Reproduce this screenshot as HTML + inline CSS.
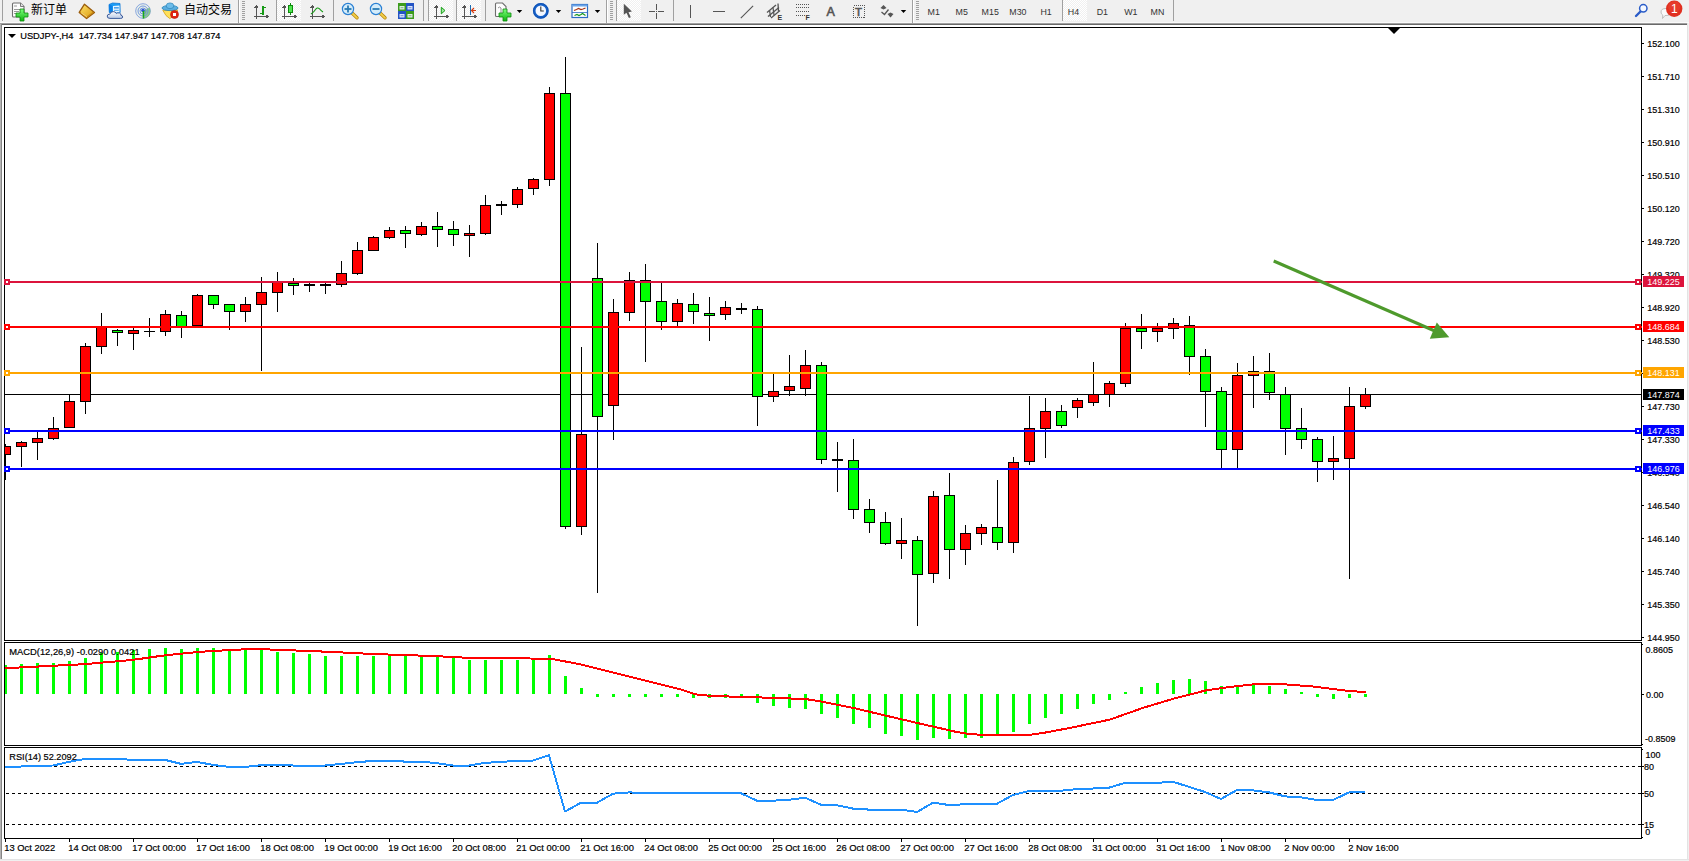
<!DOCTYPE html>
<html lang="zh"><head><meta charset="utf-8"><title>USDJPY-,H4</title>
<style>
html,body{margin:0;padding:0;background:#fff;}
body{width:1689px;height:861px;overflow:hidden;position:relative;font-family:"Liberation Sans","Noto Sans CJK SC",sans-serif;}
#tb{position:absolute;left:0;top:0;width:1689px;height:23px;background:#f0f0f0;border-bottom:1px solid #fafafa;box-sizing:border-box;}
#tbl1{position:absolute;left:0;top:23px;width:1689px;height:1px;background:#a0a0a0;}
#tbl2{position:absolute;left:0;top:24px;width:1689px;height:1px;background:#696969;}
#lg{position:absolute;left:0;top:24px;width:2px;height:835px;background:#868686;border-left:1px solid #b4b4b4;box-sizing:border-box;}
#rg{position:absolute;left:1687px;top:23px;width:2px;height:838px;background:#f0f0f0;border-left:1px solid #e3e3e3;box-sizing:border-box;}
#bg{position:absolute;left:0;top:859px;width:1689px;height:2px;background:#f0f0f0;border-top:1px solid #e3e3e3;box-sizing:border-box;}
.cn{position:absolute;top:3px;font-size:12px;line-height:14px;color:#000;white-space:nowrap;}
.tf{position:absolute;top:5px;font-size:9px;line-height:12px;color:#333;white-space:nowrap;}
svg{position:absolute;left:0;top:0;}
</style></head><body>
<div id="tb"></div><div id="tbl1"></div><div id="tbl2"></div><div id="lg"></div><div id="rg"></div><div id="bg"></div>
<span class="cn" style="left:31px">新订单</span>
<span class="cn" style="left:184px">自动交易</span>
<svg width="1689" height="861" viewBox="0 0 1689 861">
<defs><pattern id="chk" width="2" height="2" patternUnits="userSpaceOnUse"><rect width="2" height="2" fill="#f0f0f0"/><rect width="1" height="1" fill="#fff"/><rect x="1" y="1" width="1" height="1" fill="#fff"/></pattern>
<linearGradient id="gp" x1="0" y1="0" x2="0" y2="1"><stop offset="0" stop-color="#7dff7d"/><stop offset="1" stop-color="#0fb40f"/></linearGradient>
<linearGradient id="gold" x1="0" y1="0" x2="1" y2="1"><stop offset="0" stop-color="#ffe36a"/><stop offset="1" stop-color="#d9980f"/></linearGradient>
<linearGradient id="cl" x1="0" y1="0" x2="0" y2="1"><stop offset="0" stop-color="#ffffff"/><stop offset="1" stop-color="#b8c8e4"/></linearGradient>
</defs>
<g shape-rendering="crispEdges">
<rect x="2" y="0" width="1" height="21" fill="#a0a0a0"/>
<rect x="238" y="0" width="1" height="23" fill="#a0a0a0"/>
<rect x="239" y="0" width="1" height="23" fill="#fff"/>
<rect x="242" y="1" width="3" height="1" fill="#a0a0a0"/>
<rect x="242" y="3" width="3" height="1" fill="#a0a0a0"/>
<rect x="242" y="5" width="3" height="1" fill="#a0a0a0"/>
<rect x="242" y="7" width="3" height="1" fill="#a0a0a0"/>
<rect x="242" y="9" width="3" height="1" fill="#a0a0a0"/>
<rect x="242" y="11" width="3" height="1" fill="#a0a0a0"/>
<rect x="242" y="13" width="3" height="1" fill="#a0a0a0"/>
<rect x="242" y="15" width="3" height="1" fill="#a0a0a0"/>
<rect x="242" y="17" width="3" height="1" fill="#a0a0a0"/>
<rect x="242" y="19" width="3" height="1" fill="#a0a0a0"/>
<rect x="276" y="0" width="1" height="21" fill="#a0a0a0"/>
<rect x="277" y="0" width="24" height="21" fill="url(#chk)"/>
<rect x="333" y="0" width="1" height="21" fill="#a0a0a0"/>
<rect x="423" y="0" width="1" height="21" fill="#a0a0a0"/>
<rect x="428" y="0" width="1" height="21" fill="#a0a0a0"/>
<rect x="429" y="0" width="24" height="21" fill="url(#chk)"/>
<rect x="456" y="0" width="1" height="21" fill="#a0a0a0"/>
<rect x="457" y="0" width="24" height="21" fill="url(#chk)"/>
<rect x="485" y="0" width="1" height="21" fill="#a0a0a0"/>
<rect x="606" y="0" width="1" height="23" fill="#a0a0a0"/>
<rect x="607" y="0" width="1" height="23" fill="#fff"/>
<rect x="610" y="1" width="3" height="1" fill="#a0a0a0"/>
<rect x="610" y="3" width="3" height="1" fill="#a0a0a0"/>
<rect x="610" y="5" width="3" height="1" fill="#a0a0a0"/>
<rect x="610" y="7" width="3" height="1" fill="#a0a0a0"/>
<rect x="610" y="9" width="3" height="1" fill="#a0a0a0"/>
<rect x="610" y="11" width="3" height="1" fill="#a0a0a0"/>
<rect x="610" y="13" width="3" height="1" fill="#a0a0a0"/>
<rect x="610" y="15" width="3" height="1" fill="#a0a0a0"/>
<rect x="610" y="17" width="3" height="1" fill="#a0a0a0"/>
<rect x="610" y="19" width="3" height="1" fill="#a0a0a0"/>
<rect x="616" y="0" width="1" height="21" fill="#a0a0a0"/>
<rect x="617" y="0" width="24" height="21" fill="url(#chk)"/>
<rect x="673" y="0" width="1" height="21" fill="#a0a0a0"/>
<rect x="912" y="0" width="1" height="23" fill="#a0a0a0"/>
<rect x="913" y="0" width="1" height="23" fill="#fff"/>
<rect x="916" y="1" width="3" height="1" fill="#a0a0a0"/>
<rect x="916" y="3" width="3" height="1" fill="#a0a0a0"/>
<rect x="916" y="5" width="3" height="1" fill="#a0a0a0"/>
<rect x="916" y="7" width="3" height="1" fill="#a0a0a0"/>
<rect x="916" y="9" width="3" height="1" fill="#a0a0a0"/>
<rect x="916" y="11" width="3" height="1" fill="#a0a0a0"/>
<rect x="916" y="13" width="3" height="1" fill="#a0a0a0"/>
<rect x="916" y="15" width="3" height="1" fill="#a0a0a0"/>
<rect x="916" y="17" width="3" height="1" fill="#a0a0a0"/>
<rect x="916" y="19" width="3" height="1" fill="#a0a0a0"/>
<rect x="1062" y="0" width="1" height="21" fill="#a0a0a0"/>
<rect x="1063" y="0" width="24" height="21" fill="url(#chk)"/>
<rect x="1173" y="0" width="1" height="21" fill="#a0a0a0"/>
</g>
<path d="M12.5,4 q0,-1 1,-1 h7 l3.5,3.5 v9.5 q0,1 -1,1 h-9.500 q-1,0 -1,-1 z" fill="#fdfdfd" stroke="#6e6e6e" stroke-width="1.1"/>
<path d="M20.500,3 v3.500 h3.500" fill="#e4e4e4" stroke="#6e6e6e" stroke-width="0.9"/>
<g stroke="#9a9a9a" stroke-width="1"><line x1="14" y1="6" x2="17" y2="6"/><line x1="14" y1="9.5" x2="21" y2="9.500"/><line x1="14" y1="11.500" x2="19" y2="11.500"/><line x1="14" y1="13.500" x2="17" y2="13.500"/></g>
<path d="M20,9 h4 v4 h4 v4 h-4 v4 h-4 v-4 h-4 v-4 h4 z" fill="url(#gp)" stroke="#0e8a0e" stroke-width="0.8"/>
<polygon points="84.500,4.200 94.500,12.400 86.600,18.600 79.200,12.400" fill="url(#gold)" stroke="#9a5c0c" stroke-width="1.3" stroke-linejoin="round"/>
<polygon points="79.800,12.800 86.600,18 93.800,12.600 93.200,11.600 86.600,16.400 80.600,11.800" fill="#c98a14"/>
<line x1="81" y1="12.600" x2="86.800" y2="16.800" stroke="#ffe9a0" stroke-width="0.8"/>
<polygon points="109,4.500 112.500,3 120,3.500 120.200,12.500 109.300,12.500" fill="#1c9cf5" stroke="#1278d6" stroke-width="0.8"/>
<polygon points="109,4.500 112.300,5.800 112.300,12.500 109.300,12.500" fill="#0a7fe6"/><polygon points="113,6 119.500,5.600 119.500,12.500 113,12.500" fill="#e8f5ff"/><rect x="114" y="7.200" width="4.800" height="1.300" fill="#2a90e8"/><rect x="114" y="9.800" width="4.800" height="1.200" fill="#6ab8f4"/>
<path d="M110,18.400 q-3,0 -2.800,-2.400 q0.200,-2 2.600,-1.800 q0.600,-2.600 3.400,-2.600 q2.400,0 3.200,2 q1.200,-1.200 3,-0.600 q1.800,0.600 1.600,2.400 q1.800,0.200 1.700,1.700 q-0.100,1.300 -2,1.300 z" fill="url(#cl)" stroke="#3c5c9c" stroke-width="1"/>
<circle cx="143" cy="11" r="7.300" fill="#e8f0e8" stroke="#8aa6e0" stroke-width="1"/><path d="M143,11 L143,18.300 A7.300,7.300 0 0 0 149.500,7.500 Z" fill="#6fbf6f" opacity="0.750"/>
<circle cx="143" cy="11" r="5" fill="none" stroke="#6a8ee0" stroke-width="0.9"/><circle cx="143" cy="11" r="3" fill="none" stroke="#5a80dc" stroke-width="0.8"/><circle cx="143" cy="10.600" r="1.800" fill="#2a58d0"/><rect x="142.700" y="11" width="1.500" height="7.500" fill="#18a818"/>
<polygon points="162.800,10.300 177.600,10 176,14 169.800,18.600 166,15.500" fill="#ffe05a" stroke="#d4a010" stroke-width="0.8"/>
<ellipse cx="170" cy="8" rx="8" ry="2.600" fill="#5aaee0" stroke="#2a84b8" stroke-width="0.8"/><ellipse cx="170" cy="5.800" rx="3.800" ry="2.900" fill="#6cbcea" stroke="#2a84b8" stroke-width="0.700"/>
<circle cx="174.500" cy="14.500" r="4" fill="#e02410" stroke="#b81808" stroke-width="0.600"/><rect x="173" y="13" width="3" height="3" fill="#fff"/>
<g shape-rendering="crispEdges">
<rect x="256" y="5" width="1" height="14" fill="#555555"/><rect x="254" y="16" width="14" height="1" fill="#555555"/>
<polygon points="254.5,7.5 256.5,4.5 258.5,7.5" fill="#555555"/><polygon points="266,14.5 269,16.5 266,18.5" fill="#555555"/>
<rect x="262" y="6" width="2" height="9" fill="#169a16"/><rect x="264" y="7" width="2" height="1" fill="#169a16"/><rect x="260" y="13" width="2" height="1" fill="#169a16"/>
<rect x="284" y="5" width="1" height="14" fill="#555555"/><rect x="282" y="16" width="14" height="1" fill="#555555"/>
<polygon points="282.5,7.5 284.5,4.5 286.5,7.5" fill="#555555"/><polygon points="294,14.5 297,16.5 294,18.5" fill="#555555"/>
<rect x="290" y="3" width="1" height="12" fill="#0e8a0e"/><rect x="288" y="5" width="5" height="8" fill="#0e8a0e"/><rect x="289" y="6" width="3" height="6" fill="#4ee64e"/>
<rect x="312" y="5" width="1" height="14" fill="#555555"/><rect x="310" y="16" width="14" height="1" fill="#555555"/>
<polygon points="310.5,7.5 312.5,4.5 314.5,7.5" fill="#555555"/><polygon points="322,14.5 325,16.5 322,18.5" fill="#555555"/>
<rect x="436" y="5" width="1" height="14" fill="#555555"/><rect x="434" y="16" width="14" height="1" fill="#555555"/>
<polygon points="434.5,7.5 436.5,4.5 438.5,7.5" fill="#555555"/><polygon points="446,14.5 449,16.5 446,18.5" fill="#555555"/>
<rect x="464" y="5" width="1" height="14" fill="#555555"/><rect x="462" y="16" width="14" height="1" fill="#555555"/>
<polygon points="462.5,7.5 464.5,4.5 466.5,7.5" fill="#555555"/><polygon points="474,14.5 477,16.5 474,18.5" fill="#555555"/>
<rect x="470" y="5" width="1" height="10" fill="#1a6ab0"/>
</g>
<path d="M311,14 q3,-2 4.500,-4.500 q1.800,-2.600 3.800,-0.800 q2,2.200 3.700,3.300" fill="none" stroke="#169a16" stroke-width="1.100"/>
<polygon points="441.300,7.300 441.300,13.800 445,10.500" fill="#9fe89f" stroke="#18a018" stroke-width="1"/>
<path d="M476,10.500 h-4.500 m2.500,-2.500 l-2.500,2.500 l2.500,2.500" fill="none" stroke="#d43a10" stroke-width="1.200"/>
<line x1="352" y1="13" x2="357" y2="17.800" stroke="#b8860b" stroke-width="3.400" stroke-linecap="round"/><line x1="352" y1="13" x2="357" y2="17.800" stroke="#f2cf4a" stroke-width="1.800" stroke-linecap="round"/>
<circle cx="348" cy="9" r="5.600" fill="#d4ecfa" stroke="#2a80d4" stroke-width="1.200"/>
<rect x="344.5" y="8.100" width="7" height="1.800" fill="#2a7cb4"/>
<rect x="347.1" y="5.500" width="1.800" height="7" fill="#2a7cb4"/>
<line x1="380" y1="13" x2="385" y2="17.800" stroke="#b8860b" stroke-width="3.400" stroke-linecap="round"/><line x1="380" y1="13" x2="385" y2="17.800" stroke="#f2cf4a" stroke-width="1.800" stroke-linecap="round"/>
<circle cx="376" cy="9" r="5.600" fill="#d4ecfa" stroke="#2a80d4" stroke-width="1.200"/>
<rect x="372.5" y="8.100" width="7" height="1.800" fill="#2a7cb4"/>
<rect x="398" y="3" width="8" height="8" fill="#3c9c1c"/><rect x="399.5" y="6" width="5" height="3.500" fill="#eef4ff" opacity="0.900"/><rect x="400.5" y="7.2" width="3" height="1" fill="#3c9c1c" opacity="0.600"/>
<rect x="406" y="3" width="8" height="8" fill="#2454c4"/><rect x="407.5" y="6" width="5" height="3.500" fill="#eef4ff" opacity="0.900"/><rect x="408.5" y="7.2" width="3" height="1" fill="#2454c4" opacity="0.600"/>
<rect x="398" y="11" width="8" height="8" fill="#2454c4"/><rect x="399.5" y="14" width="5" height="3.500" fill="#eef4ff" opacity="0.900"/><rect x="400.5" y="15.2" width="3" height="1" fill="#2454c4" opacity="0.600"/>
<rect x="406" y="11" width="8" height="8" fill="#3c9c1c"/><rect x="407.5" y="14" width="5" height="3.500" fill="#eef4ff" opacity="0.900"/><rect x="408.5" y="15.2" width="3" height="1" fill="#3c9c1c" opacity="0.600"/>
<path d="M495.500,4 q0,-1 1,-1 h6 l3.500,3.500 v9 q0,1 -1,1 h-8.500 q-1,0 -1,-1 z" fill="#fdfdfd" stroke="#6e6e6e" stroke-width="1.1"/><path d="M498,8 q1.500,-2 3,0 v5" fill="none" stroke="#777" stroke-width="0.800"/>
<path d="M503,9 h4 v4 h4 v4 h-4 v4 h-4 v-4 h-4 v-4 h4 z" fill="url(#gp)" stroke="#0e8a0e" stroke-width="0.8"/>
<polygon points="516.8,10 522.1999999999999,10 519.5,12.9" fill="#000"/>
<circle cx="540.800" cy="10.800" r="6.600" fill="#f4f8ff" stroke="#1560c8" stroke-width="2.600"/><circle cx="540.800" cy="10.800" r="7.300" fill="none" stroke="#0f4aa8" stroke-width="0.700"/><path d="M540.800,6.500 v4.500 h3" fill="none" stroke="#333" stroke-width="1.100"/>
<polygon points="555.8,10 561.1999999999999,10 558.5,12.9" fill="#000"/>
<rect x="572" y="4.500" width="15.500" height="13" fill="#fff" stroke="#2c6cc4" stroke-width="1.200"/><rect x="572" y="4.500" width="15.500" height="2" fill="#6aa4e8"/><line x1="572" y1="12.500" x2="587.500" y2="12.500" stroke="#2c6cc4" stroke-width="0.800"/>
<polyline points="574,10.500 576.500,9.500 578.500,8.500 581,9.500 583,9 585.500,8" fill="none" stroke="#a83210" stroke-width="1.200"/><polyline points="574.500,15.500 577,14.500 579,15.500 581,14.500 582.500,13.500 585.500,15.500" fill="none" stroke="#18981c" stroke-width="1.200"/>
<polygon points="594.8,10 600.1999999999999,10 597.5,12.9" fill="#000"/>
<polygon points="623.800,3.800 623.800,14.700 626.500,12.700 628.900,18.100 630.800,17.300 628.500,12.300 631.900,11.500" fill="#555555"/>
<g shape-rendering="crispEdges" fill="#555555"><rect x="649" y="11" width="6" height="1"/><rect x="658" y="11" width="6" height="1"/><rect x="656" y="4" width="1" height="6"/><rect x="656" y="13" width="1" height="6"/><rect x="656" y="11" width="1" height="1"/>
<rect x="690" y="5" width="1" height="13"/><rect x="713" y="11" width="12" height="1"/></g>
<line x1="740.800" y1="18.100" x2="753.100" y2="5.800" stroke="#555555" stroke-width="1.100"/>
<g stroke="#555555" stroke-width="1.300" fill="none"><line x1="767" y1="12.500" x2="776" y2="5"/><line x1="768" y1="16.500" x2="779" y2="7.500"/><line x1="771" y1="18" x2="780" y2="10.500"/><line x1="769.500" y1="10" x2="770.500" y2="17"/><line x1="773" y1="7.500" x2="774" y2="15"/><line x1="778" y1="3.500" x2="778.500" y2="11.500"/></g>
<text x="777.500" y="19.800" font-family="Liberation Sans, Arial, sans-serif" font-size="7px" font-weight="bold" fill="#333">E</text>
<g stroke="#555555" stroke-width="1" stroke-dasharray="1,1" shape-rendering="crispEdges"><line x1="796" y1="4.500" x2="809" y2="4.500"/><line x1="796" y1="7.500" x2="809" y2="7.500"/><line x1="796" y1="11.500" x2="809" y2="11.500"/><line x1="796" y1="15.500" x2="805" y2="15.500"/></g>
<text x="805.500" y="19.800" font-family="Liberation Sans, Arial, sans-serif" font-size="7px" font-weight="bold" fill="#333">F</text>
<text x="826.500" y="16" font-family="Liberation Sans, Arial, sans-serif" font-size="12.500px" fill="#555555" stroke="#555555" stroke-width="0.600">A</text>
<rect x="853.500" y="5.500" width="11" height="12" fill="none" stroke="#555555" stroke-width="1" stroke-dasharray="1,1" shape-rendering="crispEdges"/><text x="855" y="15.800" font-family="Liberation Sans, Arial, sans-serif" font-size="11.500px" fill="#555555" stroke="#555555" stroke-width="0.600">T</text>
<polygon points="880.500,8 883.500,5 886.500,8 883.500,9.500" fill="#555555"/><polygon points="887.500,14 893.500,14 890.500,17.500" fill="#555555"/><polygon points="887.500,14 890.500,12.500 893.500,14" fill="#555555"/><polyline points="881.500,12 884.500,14.500 888.500,9.500" fill="none" stroke="#555555" stroke-width="1.300"/>
<polygon points="900.8,10 906.1999999999999,10 903.5,12.9" fill="#000"/>
<line x1="1636" y1="16" x2="1640.500" y2="11.500" stroke="#2a5cc8" stroke-width="2.400" stroke-linecap="round"/><circle cx="1643.300" cy="8.300" r="3.700" fill="#f4f8ff" stroke="#2a5cc8" stroke-width="1.500"/>
<path d="M1661,12 q0,-3.500 5,-3.500 q5,0 5,3.500 q0,3.500 -5,3.500 h-1 l-2.500,3 l0.300,-3.400 q-1.800,-1 -1.800,-3.100 z" fill="#fafafa" stroke="#b8b8b8" stroke-width="0.900"/>
<circle cx="1674.200" cy="8.700" r="8.200" fill="#e03020"/><circle cx="1674.200" cy="7" r="6" fill="#f05040" opacity="0.350"/>
<text x="1671" y="13" font-family="Liberation Sans, Arial, sans-serif" font-size="12px" fill="#fff">1</text>
<g shape-rendering="crispEdges">
<rect x="5" y="394" width="1637" height="1" fill="#000"/>
<clipPath id="cc"><rect x="5" y="28" width="1636" height="612"/></clipPath><g clip-path="url(#cc)">
<rect x="5" y="444" width="1" height="36" fill="#000"/>
<rect x="0" y="446" width="11" height="9" fill="#000"/>
<rect x="1" y="447" width="9" height="7" fill="#ff0000"/>
<rect x="21" y="441" width="1" height="26" fill="#000"/>
<rect x="16" y="442" width="11" height="5" fill="#000"/>
<rect x="17" y="443" width="9" height="3" fill="#ff0000"/>
<rect x="37" y="432" width="1" height="28" fill="#000"/>
<rect x="32" y="438" width="11" height="5" fill="#000"/>
<rect x="33" y="439" width="9" height="3" fill="#ff0000"/>
<rect x="53" y="417" width="1" height="23" fill="#000"/>
<rect x="48" y="428" width="11" height="11" fill="#000"/>
<rect x="49" y="429" width="9" height="9" fill="#ff0000"/>
<rect x="69" y="395" width="1" height="32" fill="#000"/>
<rect x="64" y="401" width="11" height="27" fill="#000"/>
<rect x="65" y="402" width="9" height="25" fill="#ff0000"/>
<rect x="85" y="343" width="1" height="71" fill="#000"/>
<rect x="80" y="346" width="11" height="56" fill="#000"/>
<rect x="81" y="347" width="9" height="54" fill="#ff0000"/>
<rect x="101" y="313" width="1" height="41" fill="#000"/>
<rect x="96" y="327" width="11" height="20" fill="#000"/>
<rect x="97" y="328" width="9" height="18" fill="#ff0000"/>
<rect x="117" y="329" width="1" height="17" fill="#000"/>
<rect x="112" y="330" width="11" height="3" fill="#000"/>
<rect x="113" y="331" width="9" height="1" fill="#00ff00"/>
<rect x="133" y="328" width="1" height="22" fill="#000"/>
<rect x="128" y="330" width="11" height="4" fill="#000"/>
<rect x="129" y="331" width="9" height="2" fill="#ff0000"/>
<rect x="149" y="318" width="1" height="19" fill="#000"/>
<rect x="144" y="331" width="11" height="1" fill="#000"/>
<rect x="165" y="310" width="1" height="26" fill="#000"/>
<rect x="160" y="314" width="11" height="18" fill="#000"/>
<rect x="161" y="315" width="9" height="16" fill="#ff0000"/>
<rect x="181" y="311" width="1" height="27" fill="#000"/>
<rect x="176" y="315" width="11" height="12" fill="#000"/>
<rect x="177" y="316" width="9" height="10" fill="#00ff00"/>
<rect x="197" y="294" width="1" height="32" fill="#000"/>
<rect x="192" y="295" width="11" height="31" fill="#000"/>
<rect x="193" y="296" width="9" height="29" fill="#ff0000"/>
<rect x="213" y="295" width="1" height="14" fill="#000"/>
<rect x="208" y="295" width="11" height="10" fill="#000"/>
<rect x="209" y="296" width="9" height="8" fill="#00ff00"/>
<rect x="229" y="304" width="1" height="26" fill="#000"/>
<rect x="224" y="304" width="11" height="8" fill="#000"/>
<rect x="225" y="305" width="9" height="6" fill="#00ff00"/>
<rect x="245" y="297" width="1" height="25" fill="#000"/>
<rect x="240" y="304" width="11" height="8" fill="#000"/>
<rect x="241" y="305" width="9" height="6" fill="#ff0000"/>
<rect x="261" y="277" width="1" height="94" fill="#000"/>
<rect x="256" y="292" width="11" height="13" fill="#000"/>
<rect x="257" y="293" width="9" height="11" fill="#ff0000"/>
<rect x="277" y="272" width="1" height="40" fill="#000"/>
<rect x="272" y="282" width="11" height="11" fill="#000"/>
<rect x="273" y="283" width="9" height="9" fill="#ff0000"/>
<rect x="293" y="278" width="1" height="17" fill="#000"/>
<rect x="288" y="283" width="11" height="3" fill="#000"/>
<rect x="289" y="284" width="9" height="1" fill="#00ff00"/>
<rect x="309" y="283" width="1" height="9" fill="#000"/>
<rect x="304" y="284" width="11" height="2" fill="#000"/>
<rect x="325" y="283" width="1" height="11" fill="#000"/>
<rect x="320" y="284" width="11" height="2" fill="#000"/>
<rect x="341" y="261" width="1" height="26" fill="#000"/>
<rect x="336" y="273" width="11" height="12" fill="#000"/>
<rect x="337" y="274" width="9" height="10" fill="#ff0000"/>
<rect x="357" y="242" width="1" height="33" fill="#000"/>
<rect x="352" y="250" width="11" height="24" fill="#000"/>
<rect x="353" y="251" width="9" height="22" fill="#ff0000"/>
<rect x="373" y="236" width="1" height="14" fill="#000"/>
<rect x="368" y="237" width="11" height="14" fill="#000"/>
<rect x="369" y="238" width="9" height="12" fill="#ff0000"/>
<rect x="389" y="227" width="1" height="12" fill="#000"/>
<rect x="384" y="230" width="11" height="8" fill="#000"/>
<rect x="385" y="231" width="9" height="6" fill="#ff0000"/>
<rect x="405" y="226" width="1" height="22" fill="#000"/>
<rect x="400" y="230" width="11" height="4" fill="#000"/>
<rect x="401" y="231" width="9" height="2" fill="#00ff00"/>
<rect x="421" y="222" width="1" height="14" fill="#000"/>
<rect x="416" y="226" width="11" height="9" fill="#000"/>
<rect x="417" y="227" width="9" height="7" fill="#ff0000"/>
<rect x="437" y="212" width="1" height="35" fill="#000"/>
<rect x="432" y="226" width="11" height="4" fill="#000"/>
<rect x="433" y="227" width="9" height="2" fill="#00ff00"/>
<rect x="453" y="221" width="1" height="25" fill="#000"/>
<rect x="448" y="229" width="11" height="6" fill="#000"/>
<rect x="449" y="230" width="9" height="4" fill="#00ff00"/>
<rect x="469" y="225" width="1" height="32" fill="#000"/>
<rect x="464" y="233" width="11" height="3" fill="#000"/>
<rect x="465" y="234" width="9" height="1" fill="#ff0000"/>
<rect x="485" y="195" width="1" height="40" fill="#000"/>
<rect x="480" y="205" width="11" height="29" fill="#000"/>
<rect x="481" y="206" width="9" height="27" fill="#ff0000"/>
<rect x="501" y="201" width="1" height="14" fill="#000"/>
<rect x="496" y="204" width="11" height="2" fill="#000"/>
<rect x="517" y="187" width="1" height="21" fill="#000"/>
<rect x="512" y="189" width="11" height="16" fill="#000"/>
<rect x="513" y="190" width="9" height="14" fill="#ff0000"/>
<rect x="533" y="178" width="1" height="17" fill="#000"/>
<rect x="528" y="179" width="11" height="10" fill="#000"/>
<rect x="529" y="180" width="9" height="8" fill="#ff0000"/>
<rect x="549" y="87" width="1" height="99" fill="#000"/>
<rect x="544" y="93" width="11" height="87" fill="#000"/>
<rect x="545" y="94" width="9" height="85" fill="#ff0000"/>
<rect x="565" y="57" width="1" height="472" fill="#000"/>
<rect x="560" y="93" width="11" height="434" fill="#000"/>
<rect x="561" y="94" width="9" height="432" fill="#00ff00"/>
<rect x="581" y="347" width="1" height="188" fill="#000"/>
<rect x="576" y="434" width="11" height="93" fill="#000"/>
<rect x="577" y="435" width="9" height="91" fill="#ff0000"/>
<rect x="597" y="243" width="1" height="350" fill="#000"/>
<rect x="592" y="278" width="11" height="139" fill="#000"/>
<rect x="593" y="279" width="9" height="137" fill="#00ff00"/>
<rect x="613" y="299" width="1" height="141" fill="#000"/>
<rect x="608" y="312" width="11" height="94" fill="#000"/>
<rect x="609" y="313" width="9" height="92" fill="#ff0000"/>
<rect x="629" y="272" width="1" height="49" fill="#000"/>
<rect x="624" y="280" width="11" height="33" fill="#000"/>
<rect x="625" y="281" width="9" height="31" fill="#ff0000"/>
<rect x="645" y="264" width="1" height="98" fill="#000"/>
<rect x="640" y="280" width="11" height="22" fill="#000"/>
<rect x="641" y="281" width="9" height="20" fill="#00ff00"/>
<rect x="661" y="283" width="1" height="47" fill="#000"/>
<rect x="656" y="301" width="11" height="21" fill="#000"/>
<rect x="657" y="302" width="9" height="19" fill="#00ff00"/>
<rect x="677" y="299" width="1" height="27" fill="#000"/>
<rect x="672" y="303" width="11" height="19" fill="#000"/>
<rect x="673" y="304" width="9" height="17" fill="#ff0000"/>
<rect x="693" y="293" width="1" height="31" fill="#000"/>
<rect x="688" y="304" width="11" height="8" fill="#000"/>
<rect x="689" y="305" width="9" height="6" fill="#00ff00"/>
<rect x="709" y="297" width="1" height="44" fill="#000"/>
<rect x="704" y="313" width="11" height="3" fill="#000"/>
<rect x="705" y="314" width="9" height="1" fill="#00ff00"/>
<rect x="725" y="301" width="1" height="19" fill="#000"/>
<rect x="720" y="307" width="11" height="8" fill="#000"/>
<rect x="721" y="308" width="9" height="6" fill="#ff0000"/>
<rect x="741" y="303" width="1" height="11" fill="#000"/>
<rect x="736" y="308" width="11" height="2" fill="#000"/>
<rect x="757" y="306" width="1" height="120" fill="#000"/>
<rect x="752" y="309" width="11" height="88" fill="#000"/>
<rect x="753" y="310" width="9" height="86" fill="#00ff00"/>
<rect x="773" y="374" width="1" height="28" fill="#000"/>
<rect x="768" y="391" width="11" height="6" fill="#000"/>
<rect x="769" y="392" width="9" height="4" fill="#ff0000"/>
<rect x="789" y="355" width="1" height="41" fill="#000"/>
<rect x="784" y="386" width="11" height="5" fill="#000"/>
<rect x="785" y="387" width="9" height="3" fill="#ff0000"/>
<rect x="805" y="350" width="1" height="46" fill="#000"/>
<rect x="800" y="365" width="11" height="24" fill="#000"/>
<rect x="801" y="366" width="9" height="22" fill="#ff0000"/>
<rect x="821" y="362" width="1" height="102" fill="#000"/>
<rect x="816" y="365" width="11" height="95" fill="#000"/>
<rect x="817" y="366" width="9" height="93" fill="#00ff00"/>
<rect x="837" y="442" width="1" height="50" fill="#000"/>
<rect x="832" y="459" width="11" height="2" fill="#000"/>
<rect x="853" y="439" width="1" height="80" fill="#000"/>
<rect x="848" y="460" width="11" height="50" fill="#000"/>
<rect x="849" y="461" width="9" height="48" fill="#00ff00"/>
<rect x="869" y="499" width="1" height="34" fill="#000"/>
<rect x="864" y="509" width="11" height="14" fill="#000"/>
<rect x="865" y="510" width="9" height="12" fill="#00ff00"/>
<rect x="885" y="512" width="1" height="33" fill="#000"/>
<rect x="880" y="522" width="11" height="22" fill="#000"/>
<rect x="881" y="523" width="9" height="20" fill="#00ff00"/>
<rect x="901" y="518" width="1" height="41" fill="#000"/>
<rect x="896" y="540" width="11" height="4" fill="#000"/>
<rect x="897" y="541" width="9" height="2" fill="#ff0000"/>
<rect x="917" y="536" width="1" height="90" fill="#000"/>
<rect x="912" y="540" width="11" height="35" fill="#000"/>
<rect x="913" y="541" width="9" height="33" fill="#00ff00"/>
<rect x="933" y="491" width="1" height="92" fill="#000"/>
<rect x="928" y="496" width="11" height="78" fill="#000"/>
<rect x="929" y="497" width="9" height="76" fill="#ff0000"/>
<rect x="949" y="473" width="1" height="106" fill="#000"/>
<rect x="944" y="495" width="11" height="55" fill="#000"/>
<rect x="945" y="496" width="9" height="53" fill="#00ff00"/>
<rect x="965" y="525" width="1" height="40" fill="#000"/>
<rect x="960" y="533" width="11" height="17" fill="#000"/>
<rect x="961" y="534" width="9" height="15" fill="#ff0000"/>
<rect x="981" y="524" width="1" height="21" fill="#000"/>
<rect x="976" y="527" width="11" height="7" fill="#000"/>
<rect x="977" y="528" width="9" height="5" fill="#ff0000"/>
<rect x="997" y="480" width="1" height="70" fill="#000"/>
<rect x="992" y="527" width="11" height="16" fill="#000"/>
<rect x="993" y="528" width="9" height="14" fill="#00ff00"/>
<rect x="1013" y="457" width="1" height="96" fill="#000"/>
<rect x="1008" y="462" width="11" height="81" fill="#000"/>
<rect x="1009" y="463" width="9" height="79" fill="#ff0000"/>
<rect x="1029" y="396" width="1" height="69" fill="#000"/>
<rect x="1024" y="428" width="11" height="34" fill="#000"/>
<rect x="1025" y="429" width="9" height="32" fill="#ff0000"/>
<rect x="1045" y="398" width="1" height="60" fill="#000"/>
<rect x="1040" y="411" width="11" height="18" fill="#000"/>
<rect x="1041" y="412" width="9" height="16" fill="#ff0000"/>
<rect x="1061" y="405" width="1" height="23" fill="#000"/>
<rect x="1056" y="411" width="11" height="15" fill="#000"/>
<rect x="1057" y="412" width="9" height="13" fill="#00ff00"/>
<rect x="1077" y="398" width="1" height="20" fill="#000"/>
<rect x="1072" y="400" width="11" height="8" fill="#000"/>
<rect x="1073" y="401" width="9" height="6" fill="#ff0000"/>
<rect x="1093" y="362" width="1" height="44" fill="#000"/>
<rect x="1088" y="394" width="11" height="9" fill="#000"/>
<rect x="1089" y="395" width="9" height="7" fill="#ff0000"/>
<rect x="1109" y="381" width="1" height="26" fill="#000"/>
<rect x="1104" y="383" width="11" height="12" fill="#000"/>
<rect x="1105" y="384" width="9" height="10" fill="#ff0000"/>
<rect x="1125" y="323" width="1" height="64" fill="#000"/>
<rect x="1120" y="328" width="11" height="56" fill="#000"/>
<rect x="1121" y="329" width="9" height="54" fill="#ff0000"/>
<rect x="1141" y="314" width="1" height="35" fill="#000"/>
<rect x="1136" y="328" width="11" height="4" fill="#000"/>
<rect x="1137" y="329" width="9" height="2" fill="#00ff00"/>
<rect x="1157" y="323" width="1" height="19" fill="#000"/>
<rect x="1152" y="328" width="11" height="4" fill="#000"/>
<rect x="1153" y="329" width="9" height="2" fill="#ff0000"/>
<rect x="1173" y="318" width="1" height="21" fill="#000"/>
<rect x="1168" y="323" width="11" height="6" fill="#000"/>
<rect x="1169" y="324" width="9" height="4" fill="#ff0000"/>
<rect x="1189" y="316" width="1" height="59" fill="#000"/>
<rect x="1184" y="325" width="11" height="32" fill="#000"/>
<rect x="1185" y="326" width="9" height="30" fill="#00ff00"/>
<rect x="1205" y="349" width="1" height="78" fill="#000"/>
<rect x="1200" y="356" width="11" height="36" fill="#000"/>
<rect x="1201" y="357" width="9" height="34" fill="#00ff00"/>
<rect x="1221" y="387" width="1" height="81" fill="#000"/>
<rect x="1216" y="391" width="11" height="59" fill="#000"/>
<rect x="1217" y="392" width="9" height="57" fill="#00ff00"/>
<rect x="1237" y="363" width="1" height="105" fill="#000"/>
<rect x="1232" y="375" width="11" height="75" fill="#000"/>
<rect x="1233" y="376" width="9" height="73" fill="#ff0000"/>
<rect x="1253" y="356" width="1" height="52" fill="#000"/>
<rect x="1248" y="371" width="11" height="5" fill="#000"/>
<rect x="1249" y="372" width="9" height="3" fill="#ff0000"/>
<rect x="1269" y="353" width="1" height="47" fill="#000"/>
<rect x="1264" y="371" width="11" height="22" fill="#000"/>
<rect x="1265" y="372" width="9" height="20" fill="#00ff00"/>
<rect x="1285" y="387" width="1" height="68" fill="#000"/>
<rect x="1280" y="394" width="11" height="35" fill="#000"/>
<rect x="1281" y="395" width="9" height="33" fill="#00ff00"/>
<rect x="1301" y="408" width="1" height="41" fill="#000"/>
<rect x="1296" y="428" width="11" height="12" fill="#000"/>
<rect x="1297" y="429" width="9" height="10" fill="#00ff00"/>
<rect x="1317" y="437" width="1" height="45" fill="#000"/>
<rect x="1312" y="439" width="11" height="23" fill="#000"/>
<rect x="1313" y="440" width="9" height="21" fill="#00ff00"/>
<rect x="1333" y="436" width="1" height="44" fill="#000"/>
<rect x="1328" y="458" width="11" height="4" fill="#000"/>
<rect x="1329" y="459" width="9" height="2" fill="#ff0000"/>
<rect x="1349" y="387" width="1" height="192" fill="#000"/>
<rect x="1344" y="406" width="11" height="53" fill="#000"/>
<rect x="1345" y="407" width="9" height="51" fill="#ff0000"/>
<rect x="1365" y="388" width="1" height="21" fill="#000"/>
<rect x="1360" y="394" width="11" height="13" fill="#000"/>
<rect x="1361" y="395" width="9" height="11" fill="#ff0000"/>
</g>
<rect x="5" y="281" width="1637" height="2" fill="#dc143c"/>
<rect x="5" y="326" width="1637" height="2" fill="#ff0000"/>
<rect x="5" y="372" width="1637" height="2" fill="#ffa500"/>
<rect x="5" y="430" width="1637" height="2" fill="#0000ff"/>
<rect x="5" y="468" width="1637" height="2" fill="#0000ff"/>
<rect x="4" y="279" width="6" height="6" fill="#dc143c"/><rect x="6" y="281" width="2" height="2" fill="#fff"/>
<rect x="1635" y="279" width="6" height="6" fill="#dc143c"/><rect x="1637" y="281" width="2" height="2" fill="#fff"/>
<rect x="4" y="324" width="6" height="6" fill="#ff0000"/><rect x="6" y="326" width="2" height="2" fill="#fff"/>
<rect x="1635" y="324" width="6" height="6" fill="#ff0000"/><rect x="1637" y="326" width="2" height="2" fill="#fff"/>
<rect x="4" y="370" width="6" height="6" fill="#ffa500"/><rect x="6" y="372" width="2" height="2" fill="#fff"/>
<rect x="1635" y="370" width="6" height="6" fill="#ffa500"/><rect x="1637" y="372" width="2" height="2" fill="#fff"/>
<rect x="4" y="428" width="6" height="6" fill="#0000ff"/><rect x="6" y="430" width="2" height="2" fill="#fff"/>
<rect x="1635" y="428" width="6" height="6" fill="#0000ff"/><rect x="1637" y="430" width="2" height="2" fill="#fff"/>
<rect x="4" y="466" width="6" height="6" fill="#0000ff"/><rect x="6" y="468" width="2" height="2" fill="#fff"/>
<rect x="1635" y="466" width="6" height="6" fill="#0000ff"/><rect x="1637" y="468" width="2" height="2" fill="#fff"/>
<rect x="4" y="665" width="3" height="29" fill="#00ff00"/>
<rect x="20" y="664" width="3" height="30" fill="#00ff00"/>
<rect x="36" y="663" width="3" height="31" fill="#00ff00"/>
<rect x="52" y="663" width="3" height="31" fill="#00ff00"/>
<rect x="68" y="661" width="3" height="33" fill="#00ff00"/>
<rect x="84" y="658" width="3" height="36" fill="#00ff00"/>
<rect x="100" y="653" width="3" height="41" fill="#00ff00"/>
<rect x="116" y="652" width="3" height="42" fill="#00ff00"/>
<rect x="132" y="650" width="3" height="44" fill="#00ff00"/>
<rect x="148" y="649" width="3" height="45" fill="#00ff00"/>
<rect x="164" y="648" width="3" height="46" fill="#00ff00"/>
<rect x="180" y="649" width="3" height="45" fill="#00ff00"/>
<rect x="196" y="648" width="3" height="46" fill="#00ff00"/>
<rect x="212" y="648" width="3" height="46" fill="#00ff00"/>
<rect x="228" y="649" width="3" height="45" fill="#00ff00"/>
<rect x="244" y="650" width="3" height="44" fill="#00ff00"/>
<rect x="260" y="650" width="3" height="44" fill="#00ff00"/>
<rect x="276" y="652" width="3" height="42" fill="#00ff00"/>
<rect x="292" y="653" width="3" height="41" fill="#00ff00"/>
<rect x="308" y="654" width="3" height="40" fill="#00ff00"/>
<rect x="324" y="656" width="3" height="38" fill="#00ff00"/>
<rect x="340" y="656" width="3" height="38" fill="#00ff00"/>
<rect x="356" y="656" width="3" height="38" fill="#00ff00"/>
<rect x="372" y="656" width="3" height="38" fill="#00ff00"/>
<rect x="388" y="656" width="3" height="38" fill="#00ff00"/>
<rect x="404" y="656" width="3" height="38" fill="#00ff00"/>
<rect x="420" y="656" width="3" height="38" fill="#00ff00"/>
<rect x="436" y="656" width="3" height="38" fill="#00ff00"/>
<rect x="452" y="658" width="3" height="36" fill="#00ff00"/>
<rect x="468" y="660" width="3" height="34" fill="#00ff00"/>
<rect x="484" y="660" width="3" height="34" fill="#00ff00"/>
<rect x="500" y="660" width="3" height="34" fill="#00ff00"/>
<rect x="516" y="660" width="3" height="34" fill="#00ff00"/>
<rect x="532" y="659" width="3" height="35" fill="#00ff00"/>
<rect x="548" y="655" width="3" height="39" fill="#00ff00"/>
<rect x="564" y="676" width="3" height="18" fill="#00ff00"/>
<rect x="580" y="688" width="3" height="6" fill="#00ff00"/>
<rect x="596" y="694" width="3" height="3" fill="#00ff00"/>
<rect x="612" y="694" width="3" height="3" fill="#00ff00"/>
<rect x="628" y="694" width="3" height="3" fill="#00ff00"/>
<rect x="644" y="694" width="3" height="3" fill="#00ff00"/>
<rect x="660" y="694" width="3" height="3" fill="#00ff00"/>
<rect x="676" y="694" width="3" height="3" fill="#00ff00"/>
<rect x="692" y="694" width="3" height="4" fill="#00ff00"/>
<rect x="708" y="694" width="3" height="4" fill="#00ff00"/>
<rect x="724" y="694" width="3" height="4" fill="#00ff00"/>
<rect x="740" y="694" width="3" height="4" fill="#00ff00"/>
<rect x="756" y="694" width="3" height="9" fill="#00ff00"/>
<rect x="772" y="694" width="3" height="12" fill="#00ff00"/>
<rect x="788" y="694" width="3" height="14" fill="#00ff00"/>
<rect x="804" y="694" width="3" height="15" fill="#00ff00"/>
<rect x="820" y="694" width="3" height="20" fill="#00ff00"/>
<rect x="836" y="694" width="3" height="24" fill="#00ff00"/>
<rect x="852" y="694" width="3" height="30" fill="#00ff00"/>
<rect x="868" y="694" width="3" height="34" fill="#00ff00"/>
<rect x="884" y="694" width="3" height="40" fill="#00ff00"/>
<rect x="900" y="694" width="3" height="42" fill="#00ff00"/>
<rect x="916" y="694" width="3" height="46" fill="#00ff00"/>
<rect x="932" y="694" width="3" height="44" fill="#00ff00"/>
<rect x="948" y="694" width="3" height="45" fill="#00ff00"/>
<rect x="964" y="694" width="3" height="44" fill="#00ff00"/>
<rect x="980" y="694" width="3" height="44" fill="#00ff00"/>
<rect x="996" y="694" width="3" height="42" fill="#00ff00"/>
<rect x="1012" y="694" width="3" height="38" fill="#00ff00"/>
<rect x="1028" y="694" width="3" height="30" fill="#00ff00"/>
<rect x="1044" y="694" width="3" height="24" fill="#00ff00"/>
<rect x="1060" y="694" width="3" height="20" fill="#00ff00"/>
<rect x="1076" y="694" width="3" height="15" fill="#00ff00"/>
<rect x="1092" y="694" width="3" height="10" fill="#00ff00"/>
<rect x="1108" y="694" width="3" height="6" fill="#00ff00"/>
<rect x="1124" y="692" width="3" height="2" fill="#00ff00"/>
<rect x="1140" y="687" width="3" height="7" fill="#00ff00"/>
<rect x="1156" y="683" width="3" height="11" fill="#00ff00"/>
<rect x="1172" y="680" width="3" height="14" fill="#00ff00"/>
<rect x="1188" y="679" width="3" height="15" fill="#00ff00"/>
<rect x="1204" y="681" width="3" height="13" fill="#00ff00"/>
<rect x="1220" y="686" width="3" height="8" fill="#00ff00"/>
<rect x="1236" y="685" width="3" height="9" fill="#00ff00"/>
<rect x="1252" y="685" width="3" height="9" fill="#00ff00"/>
<rect x="1268" y="686" width="3" height="8" fill="#00ff00"/>
<rect x="1284" y="689" width="3" height="5" fill="#00ff00"/>
<rect x="1300" y="692" width="3" height="2" fill="#00ff00"/>
<rect x="1316" y="694" width="3" height="3" fill="#00ff00"/>
<rect x="1332" y="694" width="3" height="5" fill="#00ff00"/>
<rect x="1348" y="694" width="3" height="4" fill="#00ff00"/>
<rect x="1364" y="694" width="3" height="3" fill="#00ff00"/>
<line x1="6" y1="766.5" x2="1641" y2="766.5" stroke="#000" stroke-width="1" stroke-dasharray="3,3"/>
<line x1="6" y1="793.5" x2="1641" y2="793.5" stroke="#000" stroke-width="1" stroke-dasharray="3,3"/>
<line x1="6" y1="824.5" x2="1641" y2="824.5" stroke="#000" stroke-width="1" stroke-dasharray="3,3"/>
<rect x="4" y="27" width="1638" height="1" fill="#000"/>
<rect x="4" y="27" width="1" height="812" fill="#000"/>
<rect x="1641" y="27" width="1" height="812" fill="#000"/>
<rect x="4" y="640" width="1638" height="1" fill="#000"/>
<rect x="4" y="642" width="1638" height="1" fill="#000"/>
<rect x="4" y="641" width="1638" height="1" fill="#fff"/>
<rect x="4" y="745" width="1638" height="1" fill="#000"/>
<rect x="4" y="747" width="1638" height="1" fill="#000"/>
<rect x="4" y="746" width="1638" height="1" fill="#fff"/>
<rect x="1642" y="644" width="1" height="1" fill="#000"/><rect x="1642" y="744" width="1" height="1" fill="#000"/><rect x="1642" y="749" width="1" height="1" fill="#000"/><rect x="1642" y="837" width="1" height="1" fill="#000"/>
<rect x="4" y="838" width="1638" height="1" fill="#000"/>
<rect x="4" y="279" width="1" height="6" fill="#dc143c"/>
<rect x="1641" y="281" width="1" height="2" fill="#dc143c"/>
<rect x="4" y="324" width="1" height="6" fill="#ff0000"/>
<rect x="1641" y="326" width="1" height="2" fill="#ff0000"/>
<rect x="4" y="370" width="1" height="6" fill="#ffa500"/>
<rect x="1641" y="372" width="1" height="2" fill="#ffa500"/>
<rect x="4" y="428" width="1" height="6" fill="#0000ff"/>
<rect x="1641" y="430" width="1" height="2" fill="#0000ff"/>
<rect x="4" y="466" width="1" height="6" fill="#0000ff"/>
<rect x="1641" y="468" width="1" height="2" fill="#0000ff"/>
<rect x="1642" y="43" width="2" height="1" fill="#000"/>
<rect x="1642" y="76" width="2" height="1" fill="#000"/>
<rect x="1642" y="109" width="2" height="1" fill="#000"/>
<rect x="1642" y="142" width="2" height="1" fill="#000"/>
<rect x="1642" y="175" width="2" height="1" fill="#000"/>
<rect x="1642" y="208" width="2" height="1" fill="#000"/>
<rect x="1642" y="241" width="2" height="1" fill="#000"/>
<rect x="1642" y="274" width="2" height="1" fill="#000"/>
<rect x="1642" y="307" width="2" height="1" fill="#000"/>
<rect x="1642" y="340" width="2" height="1" fill="#000"/>
<rect x="1642" y="373" width="2" height="1" fill="#000"/>
<rect x="1642" y="406" width="2" height="1" fill="#000"/>
<rect x="1642" y="439" width="2" height="1" fill="#000"/>
<rect x="1642" y="472" width="2" height="1" fill="#000"/>
<rect x="1642" y="505" width="2" height="1" fill="#000"/>
<rect x="1642" y="538" width="2" height="1" fill="#000"/>
<rect x="1642" y="571" width="2" height="1" fill="#000"/>
<rect x="1642" y="604" width="2" height="1" fill="#000"/>
<rect x="1642" y="637" width="2" height="1" fill="#000"/>
<rect x="1642" y="694" width="2" height="1" fill="#000"/>
<rect x="1642" y="766" width="2" height="1" fill="#000"/>
<rect x="1642" y="793" width="2" height="1" fill="#000"/>
<rect x="1642" y="824" width="2" height="1" fill="#000"/>
<rect x="5" y="839" width="1" height="3" fill="#000"/>
<rect x="69" y="839" width="1" height="3" fill="#000"/>
<rect x="133" y="839" width="1" height="3" fill="#000"/>
<rect x="197" y="839" width="1" height="3" fill="#000"/>
<rect x="261" y="839" width="1" height="3" fill="#000"/>
<rect x="325" y="839" width="1" height="3" fill="#000"/>
<rect x="389" y="839" width="1" height="3" fill="#000"/>
<rect x="453" y="839" width="1" height="3" fill="#000"/>
<rect x="517" y="839" width="1" height="3" fill="#000"/>
<rect x="581" y="839" width="1" height="3" fill="#000"/>
<rect x="645" y="839" width="1" height="3" fill="#000"/>
<rect x="709" y="839" width="1" height="3" fill="#000"/>
<rect x="773" y="839" width="1" height="3" fill="#000"/>
<rect x="837" y="839" width="1" height="3" fill="#000"/>
<rect x="901" y="839" width="1" height="3" fill="#000"/>
<rect x="965" y="839" width="1" height="3" fill="#000"/>
<rect x="1029" y="839" width="1" height="3" fill="#000"/>
<rect x="1093" y="839" width="1" height="3" fill="#000"/>
<rect x="1157" y="839" width="1" height="3" fill="#000"/>
<rect x="1221" y="839" width="1" height="3" fill="#000"/>
<rect x="1285" y="839" width="1" height="3" fill="#000"/>
<rect x="1349" y="839" width="1" height="3" fill="#000"/>
</g>
<polyline fill="none" stroke="#ff0000" stroke-width="2" shape-rendering="crispEdges" points="5.0,668.2 84.5,664.2 132.6,659.9 165.8,655.2 199.0,651.9 232.0,649.9 255.0,648.9 298.0,650.6 331.6,651.9 364.7,653.6 398.0,654.9 431.0,655.9 464.0,657.6 497.0,658.2 530.5,658.5 551.6,658.9 579.8,664.2 639.5,679.1 679.3,689.0 695.8,694.4 712.4,696.0 755.5,697.3 805.3,699.0 821.8,701.6 855.0,708.3 888.1,716.2 921.3,723.9 954.5,731.5 967.7,733.8 984.3,735.1 1027.4,735.1 1044.0,732.8 1070.5,727.8 1109.8,719.6 1143.0,707.9 1176.0,698.0 1206.0,690.4 1229.0,687.1 1255.7,684.1 1282.0,684.1 1312.0,686.4 1352.0,691.4 1365.8,691.7"/>
<polyline fill="none" stroke="#1e90ff" stroke-width="2" stroke-linejoin="round" shape-rendering="crispEdges" points="5,766.5 21,766.5 37,765.9 53,765.5 69,761.9 85,758.9 101,758.9 117,758.9 133,759.9 149,759.9 165,759.9 181,763.9 197,761.9 213,764.9 229,766.9 245,766.9 261,765.2 277,764.9 293,765.5 309,765.5 325,765.5 341,763.9 357,762.2 373,760.9 389,760.6 405,761.6 421,761.6 437,763.2 453,765.5 469,765.5 485,762.9 501,761.9 517,760.9 533,760.6 549,755.3 565,811.6 581,802.7 597,802.7 613,793.7 629,792.4 645,793.0 661,793.3 677,793.3 693,793.3 709,793.3 725,793.3 741,793.3 757,800.7 773,800.7 789,799.7 805,797.7 821,804.7 837,805.3 853,808.6 869,809.6 885,809.6 901,809.6 917,812.0 933,802.7 949,805.0 965,804.3 981,803.7 997,803.7 1013,795.0 1029,791.1 1045,790.7 1061,790.7 1077,789.1 1093,788.5 1109,787.7 1125,782.8 1141,782.8 1157,782.8 1173,781.8 1189,786.8 1205,792.0 1221,799.0 1237,790.0 1253,790.4 1269,792.4 1285,796.4 1301,797.4 1317,800.0 1333,800.0 1349,792.4 1365,791.7"/>
<line x1="1273.7" y1="261" x2="1436" y2="331.5" stroke="#4e9a2c" stroke-width="3"/>
<polygon points="1436.8,322.5 1429.8,338.8 1449.3,337.2" fill="#4e9a2c"/>
<polygon points="1388,28 1400,28 1394,34" fill="#000"/>
<polygon points="8,34 16,34 12,38" fill="#000"/>
<g font-family="Liberation Sans, Arial, sans-serif" font-size="9.6px" fill="#000" stroke="#000" stroke-width="0.2">
<text transform="translate(1647.3,46.8) scale(0.935,1)" >152.100</text>
<text transform="translate(1647.3,79.8) scale(0.935,1)" >151.710</text>
<text transform="translate(1647.3,112.8) scale(0.935,1)" >151.310</text>
<text transform="translate(1647.3,145.8) scale(0.935,1)" >150.910</text>
<text transform="translate(1647.3,178.8) scale(0.935,1)" >150.510</text>
<text transform="translate(1647.3,211.8) scale(0.935,1)" >150.120</text>
<text transform="translate(1647.3,244.8) scale(0.935,1)" >149.720</text>
<text transform="translate(1647.3,277.8) scale(0.935,1)" >149.320</text>
<text transform="translate(1647.3,310.8) scale(0.935,1)" >148.920</text>
<text transform="translate(1647.3,343.8) scale(0.935,1)" >148.530</text>
<text transform="translate(1647.3,376.8) scale(0.935,1)" >148.130</text>
<text transform="translate(1647.3,409.8) scale(0.935,1)" >147.730</text>
<text transform="translate(1647.3,442.8) scale(0.935,1)" >147.330</text>
<text transform="translate(1647.3,475.8) scale(0.935,1)" >146.940</text>
<text transform="translate(1647.3,508.8) scale(0.935,1)" >146.540</text>
<text transform="translate(1647.3,541.8) scale(0.935,1)" >146.140</text>
<text transform="translate(1647.3,574.8) scale(0.935,1)" >145.740</text>
<text transform="translate(1647.3,607.8) scale(0.935,1)" >145.350</text>
<text transform="translate(1647.3,640.8) scale(0.935,1)" >144.950</text>
<text transform="translate(1645.5,652.7) scale(0.935,1)" >0.8605</text><text transform="translate(1646,698) scale(0.935,1)" >0.00</text><text transform="translate(1645,742) scale(0.935,1)" >-0.8509</text>
<text transform="translate(1645.5,758) scale(0.935,1)" >100</text><text transform="translate(1644,770) scale(0.935,1)" >80</text><text transform="translate(1644,796.7) scale(0.935,1)" >50</text><text transform="translate(1644,827.8) scale(0.935,1)" >15</text><text transform="translate(1645.3,834.8) scale(0.935,1)" >0</text>
<text transform="translate(4.3,851) scale(0.975,1)" >13 Oct 2022</text>
<text transform="translate(68.3,851) scale(0.975,1)" >14 Oct 08:00</text>
<text transform="translate(132.3,851) scale(0.975,1)" >17 Oct 00:00</text>
<text transform="translate(196.3,851) scale(0.975,1)" >17 Oct 16:00</text>
<text transform="translate(260.3,851) scale(0.975,1)" >18 Oct 08:00</text>
<text transform="translate(324.3,851) scale(0.975,1)" >19 Oct 00:00</text>
<text transform="translate(388.3,851) scale(0.975,1)" >19 Oct 16:00</text>
<text transform="translate(452.3,851) scale(0.975,1)" >20 Oct 08:00</text>
<text transform="translate(516.3,851) scale(0.975,1)" >21 Oct 00:00</text>
<text transform="translate(580.3,851) scale(0.975,1)" >21 Oct 16:00</text>
<text transform="translate(644.3,851) scale(0.975,1)" >24 Oct 08:00</text>
<text transform="translate(708.3,851) scale(0.975,1)" >25 Oct 00:00</text>
<text transform="translate(772.3,851) scale(0.975,1)" >25 Oct 16:00</text>
<text transform="translate(836.3,851) scale(0.975,1)" >26 Oct 08:00</text>
<text transform="translate(900.3,851) scale(0.975,1)" >27 Oct 00:00</text>
<text transform="translate(964.3,851) scale(0.975,1)" >27 Oct 16:00</text>
<text transform="translate(1028.3,851) scale(0.975,1)" >28 Oct 08:00</text>
<text transform="translate(1092.3,851) scale(0.975,1)" >31 Oct 00:00</text>
<text transform="translate(1156.3,851) scale(0.975,1)" >31 Oct 16:00</text>
<text transform="translate(1220.3,851) scale(0.975,1)" >1 Nov 08:00</text>
<text transform="translate(1284.3,851) scale(0.975,1)" >2 Nov 00:00</text>
<text transform="translate(1348.3,851) scale(0.975,1)" >2 Nov 16:00</text>
<text transform="translate(20.2,39) scale(0.967,1)" xml:space="preserve">USDJPY-,H4  147.734 147.947 147.708 147.874</text>
<text transform="translate(9.3,654.7) scale(0.973,1)" >MACD(12,26,9) -0.0290 0.0421</text>
<text transform="translate(9.3,760) scale(0.96,1)" >RSI(14) 52.2092</text>
</g>
<g shape-rendering="crispEdges">
<rect x="1643" y="276" width="41" height="11" fill="#dc143c"/>
<rect x="1643" y="321" width="41" height="11" fill="#ff0000"/>
<rect x="1643" y="367" width="41" height="11" fill="#ffa500"/>
<rect x="1643" y="425" width="41" height="11" fill="#0000ff"/>
<rect x="1643" y="463" width="41" height="11" fill="#0000ff"/>
<rect x="1643" y="389" width="41" height="11" fill="#000"/>
</g>
<g font-family="Liberation Sans, Arial, sans-serif" font-size="9.6px" fill="#fff">
<text transform="translate(1647.3,284.8) scale(0.935,1)" >149.225</text>
<text transform="translate(1647.3,329.8) scale(0.935,1)" >148.684</text>
<text transform="translate(1647.3,375.8) scale(0.935,1)" >148.131</text>
<text transform="translate(1647.3,433.8) scale(0.935,1)" >147.433</text>
<text transform="translate(1647.3,471.8) scale(0.935,1)" >146.976</text>
<text transform="translate(1647.3,397.8) scale(0.935,1)" >147.874</text>
</g>
<g font-family="Liberation Sans, Arial, sans-serif" font-size="9.6px" fill="#333">
<text transform="translate(927.6,15.1) scale(0.925,1)" >M1</text>
<text transform="translate(955.5,15.1) scale(0.925,1)" >M5</text>
<text transform="translate(981.6,15.1) scale(0.925,1)" >M15</text>
<text transform="translate(1009.3,15.1) scale(0.925,1)" >M30</text>
<text transform="translate(1040.4,15.1) scale(0.925,1)" >H1</text>
<text transform="translate(1067.8,15.1) scale(0.925,1)" >H4</text>
<text transform="translate(1096.7,15.1) scale(0.925,1)" >D1</text>
<text transform="translate(1124.2,15.1) scale(0.925,1)" >W1</text>
<text transform="translate(1150.5,15.1) scale(0.925,1)" >MN</text>
</g>
</svg>
</body></html>
